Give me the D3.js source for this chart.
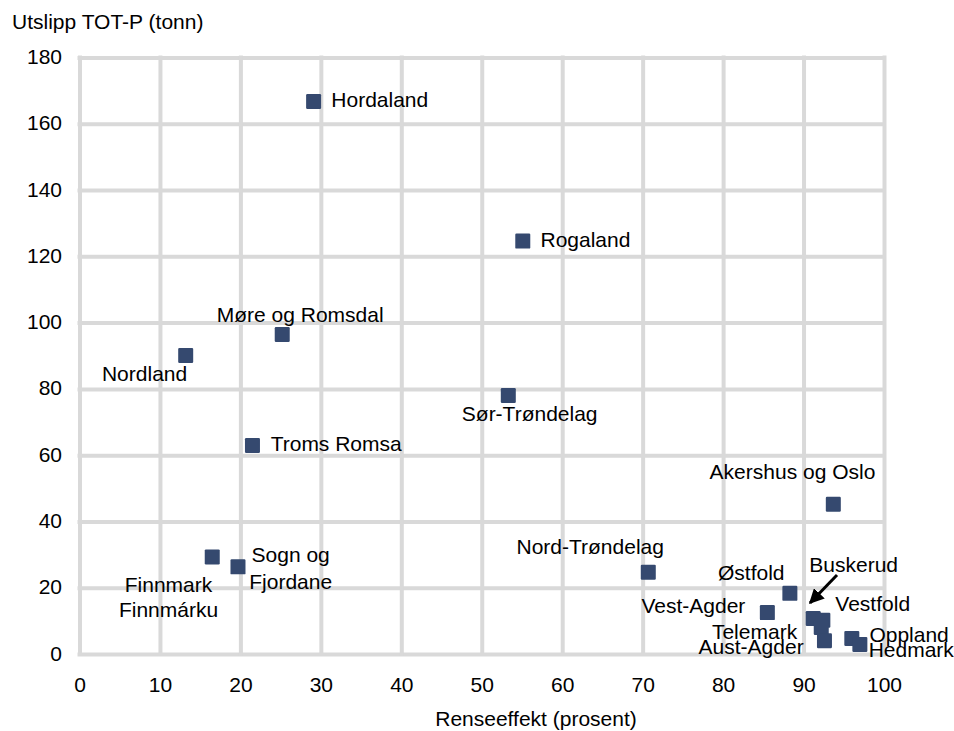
<!DOCTYPE html>
<html><head><meta charset="utf-8">
<script src="https://cdn.jsdelivr.net/npm/d3@7"></script>
<style>body{margin:0;background:#fff}svg text{font-family:"Liberation Sans",Arial,sans-serif;fill:#000}</style>
</head><body><svg id="c" width="954" height="731"></svg>
<script>
// ---- data ----
const regions = ["Hordaland","Rogaland","Møre og Romsdal","Nordland","Sør-Trøndelag","Troms Romsa","Akershus og Oslo","Finnmark Finnmárku","Sogn og Fjordane","Nord-Trøndelag","Østfold","Vest-Agder","Buskerud","Vestfold","Telemark","Aust-Agder","Oppland","Hedmark"];
const renseeffekt = [29.1, 55.1, 25.2, 13.2, 53.3, 21.5, 93.7, 16.5, 19.7, 70.7, 88.3, 85.5, 91.2, 92.4, 92.2, 92.6, 96.0, 97.0];
const utslipp = [166.7, 124.6, 96.4, 90.1, 78.0, 62.9, 45.2, 29.3, 26.3, 24.7, 18.3, 12.5, 10.7, 10.2, 8.0, 4.0, 4.7, 2.9];
const xTicks = [0,10,20,30,40,50,60,70,80,90,100];
const yTicks = [0,20,40,60,80,100,120,140,160,180];
const xTitle = "Renseeffekt (prosent)";
const yTitle = "Utslipp TOT-P (tonn)";

// ---- label layout (pixel offsets from marker centre) ----
const labelLayout = [
  {lines:["Hordaland"], anchor:"start", dx:17.7, dy:5.9},
  {lines:["Rogaland"], anchor:"start", dx:17.7, dy:5.9},
  {lines:["Møre og Romsdal"], anchor:"start", dx:-65.5, dy:-13},
  {lines:["Nordland"], anchor:"end", dx:1.5, dy:25.5},
  {lines:["Sør-Trøndelag"], anchor:"start", dx:-46.5, dy:25.5},
  {lines:["Troms Romsa"], anchor:"start", dx:18.2, dy:5.5},
  {lines:["Akershus og Oslo"], anchor:"start", dx:-123.7, dy:-25},
  {lines:["Finnmark","Finnmárku"], anchor:"middle", dx:-43.7, dy:34.6, lh:25.4},
  {lines:["Sogn og","Fjordane"], anchor:"middle", dx:52.7, dy:-5.1, lh:27.5},
  {lines:["Nord-Trøndelag"], anchor:"start", dx:-131.8, dy:-17.9},
  {lines:["Østfold"], anchor:"start", dx:-71.9, dy:-13.3},
  {lines:["Vest-Agder"], anchor:"end", dx:-22, dy:0},
  {lines:["Buskerud"], anchor:"start", dx:-3.9, dy:-46.5, arrow:true},
  {lines:["Vestfold"], anchor:"start", dx:12.5, dy:-9.2},
  {lines:["Telemark"], anchor:"end", dx:-24.1, dy:11.8},
  {lines:["Aust-Agder"], anchor:"end", dx:-20.8, dy:13.5},
  {lines:["Oppland"], anchor:"start", dx:17.6, dy:3.4},
  {lines:["Hedmark"], anchor:"start", dx:8.8, dy:12.4}
];

const FS = 21;
const mLeft = 79.5, mRight = 884, mTop = 57.5, mBottom = 654;
const svg = d3.select("#c");
const x = d3.scaleLinear().domain([0,100]).range([mLeft,mRight]);
const y = d3.scaleLinear().domain([0,180]).range([mBottom,mTop]);

const gridColor = "#d9d9d9";
// y axis + horizontal grid
const gy = svg.append("g").attr("transform",`translate(${mLeft},0)`)
  .call(d3.axisLeft(y).tickValues(yTicks).tickSize(-(mRight-mLeft)).tickPadding(17.5));
gy.select(".domain").remove();
gy.selectAll(".tick line").attr("stroke",gridColor).attr("stroke-width",4).attr("stroke-linecap","square");
gy.selectAll(".tick text").attr("font-size",FS).attr("dy","0.29em").attr("fill","#000");

// x axis + vertical grid
const gx = svg.append("g").attr("transform",`translate(0,${mBottom})`)
  .call(d3.axisBottom(x).tickValues(xTicks).tickSize(-(mBottom-mTop)).tickPadding(23));
gx.select(".domain").remove();
gx.selectAll(".tick line").attr("stroke",gridColor).attr("stroke-width",4).attr("stroke-linecap","square");
gx.selectAll(".tick text").attr("font-size",FS).attr("fill","#000");
svg.selectAll(".tick text").style("font-family",'"Liberation Sans",Arial,sans-serif');

// titles
svg.append("text").attr("x",12).attr("y",29).attr("font-size",FS).text(yTitle);
svg.append("text").attr("x",536).attr("y",726).attr("text-anchor","middle").attr("font-size",FS).text(xTitle);

// markers
const MS = 15;
const pts = regions.map((r,i)=>({r, px:x(renseeffekt[i]), py:y(utslipp[i]), lay:labelLayout[i]}));
svg.append("g").selectAll("rect").data(pts).join("rect")
  .attr("x",d=>d.px-MS/2).attr("y",d=>d.py-MS/2)
  .attr("width",MS).attr("height",MS).attr("rx",1.2)
  .attr("fill","#35496f");

// labels
const lg = svg.append("g");
pts.forEach(d=>{
  const L = d.lay;
  const t = lg.append("text").attr("font-size",FS).attr("text-anchor",L.anchor);
  L.lines.forEach((ln,k)=>{
    t.append("tspan").attr("x",d.px+L.dx).attr("y",d.py+L.dy+k*(L.lh||0)).text(ln);
  });
});

// arrow for Buskerud
svg.append("defs").append("marker").attr("id","ah")
  .attr("viewBox","0 0 10 10").attr("refX",9).attr("refY",5)
  .attr("markerWidth",5).attr("markerHeight",5).attr("orient","auto")
  .append("path").attr("d","M0,0 L10,5 L0,10 Z").attr("fill","#000");
pts.filter(d=>d.lay.arrow).forEach(d=>{
  svg.append("line")
    .attr("x1",d.px+23.8).attr("y1",d.py-43.5)
    .attr("x2",d.px-3.2).attr("y2",d.py-15.5)
    .attr("stroke","#000").attr("stroke-width",3)
    .attr("marker-end","url(#ah)");
});
</script></body></html>
